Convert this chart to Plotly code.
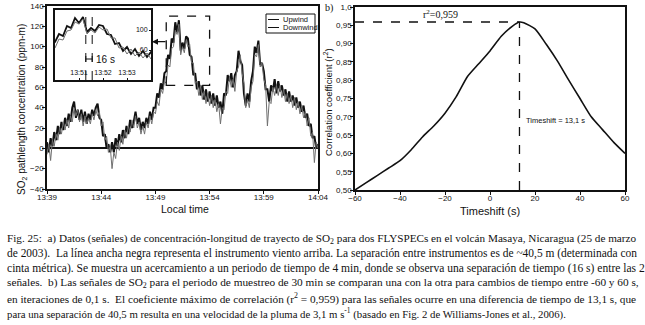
import plotly.graph_objects as go
import pandas as pd

W, H = 645, 325

def fx(p):
    return p / W

def fy(p):
    return 1 - p / H

# ---------------- data: panel a) (10 s samples from 13:39:00 to 14:04:00) ----------------
t_start = "2003-03-25 13:39:00"
upwind = [
    6, -4, 10, 2, 16, 8,          # 13:39
    22, 14, 26, 18, 30, 22,       # 13:40
    34, 26, 40, 46, 30, 38,       # 13:41
    28, 38, 26, 36, 24, 34,       # 13:42
    28, 38, 32, 40, 44, 30,       # 13:43
    28, 12, 14, 0, 4, -4,         # 13:44
    6, -4, 10, 2, 14, 6,          # 13:45
    18, 10, 22, 14, 28, 20,       # 13:46
    26, 36, 24, 30, 18, 26,       # 13:47
    20, 30, 24, 36, 28, 40,       # 13:48
    40, 54, 50, 64, 58, 74,       # 13:49
    76, 92, 88, 108, 104, 124,    # 13:50
    114, 126, 96, 104, 98, 110,   # 13:51
    108, 92, 90, 72, 74, 58,      # 13:52
    66, 52, 62, 48, 58, 46,       # 13:53
    56, 44, 54, 42, 52, 40,       # 13:54
    46, 34, 54, 52, 72, 66,       # 13:55
    74, 60, 72, 76, 96, 86,       # 13:56
    82, 54, 42, 54, 46, 66,       # 13:57
    76, 100, 94, 106, 82, 84,     # 13:58
    76, 58, 58, 46, 62, 56,       # 13:59
    68, 54, 66, 56, 62, 52,       # 14:00
    58, 46, 56, 46, 52, 42,       # 14:01
    50, 40, 46, 36, 42, 30,       # 14:02
    34, 22, 24, 10, 12, 0,        # 14:03
    4,                            # 14:04
]
downwind = [
    -6, 4, -12, 8, 2, 14,
    8, 20, 14, 26, 18, 28,
    20, 32, 26, 40, 32, 38,
    26, 34, 22, 32, 24, 30,
    24, 34, 28, 38, 32, 36,
    22, 26, 8, 12, -4, 2,
    -20, -4, -10, 6, -2, 12,
    4, 18, 10, 22, 16, 28,
    20, 32, 20, 26, 14, 22,
    14, 26, 20, 32, 24, 36,
    34, 46, 42, 58, 54, 66,
    64, 82, 80, 98, 100, 116,
    112, 122, 92, 100, 94, 106,
    100, 102, 84, 84, 64, 66,
    52, 62, 48, 56, 44, 54,
    42, 52, 40, 48, 36, 44,
    24, 40, 38, 56, 54, 70,
    60, 68, 56, 76, 80, 92,
    74, 64, 40, 48, 40, 60,
    66, 92, 90, 102, 80, 84,
    68, 62, 22, 46, 44, 60,
    52, 62, 52, 62, 50, 58,
    46, 54, 44, 52, 40, 50,
    38, 46, 34, 42, 30, 36,
    22, 30, 12, 16, -14, 6,
    0,
]
time_ticks = ["13:39", "13:44", "13:49", "13:54", "13:59", "14:04"]
inset_ticks = ["13:51", "13:52", "13:53"]
inset_window = ["13:50:00", "13:54:00"]
lag_marks = ["13:51:17", "13:51:33"]

# ---------------- data: panel b) ----------------
timeshift = [-60, -55, -50, -45, -40, -35, -30, -25, -20, -15, -10, -5, 0, 5, 10, 13.1,
             15, 20, 25, 30, 35, 40, 45, 50, 55, 60]
r2 = [0.500, 0.520, 0.540, 0.560, 0.580, 0.610, 0.645, 0.675, 0.710, 0.755, 0.810, 0.845,
      0.880, 0.920, 0.948, 0.959, 0.957, 0.940, 0.898, 0.852, 0.800, 0.750, 0.700, 0.665,
      0.630, 0.600]
r2_ticks = [0.50, 0.55, 0.60, 0.65, 0.70, 0.75, 0.80, 0.85, 0.90, 0.95, 1.00]
r2_labels = ["0,50", "0,55", "0,60", "0,65", "0,70", "0,75", "0,80", "0,85", "0,90", "0,95", "1,0"]
shift_ticks = [-60, -40, -20, 0, 20, 40, 60]
peak_shift, peak_r2 = 13.1, 0.959

caption = [
    "Fig. 25:  a) Datos (señales) de concentración-longitud de trayecto de SO<sub>2</sub> para dos FLYSPECs en el volcán Masaya, Nicaragua (25 de marzo",
    "de 2003).  La línea ancha negra representa el instrumento viento arriba. La separación entre instrumentos es de ~40,5 m (determinada con",
    "cinta métrica). Se muestra un acercamiento a un periodo de tiempo de 4 min, donde se observa una separación de tiempo (16 s) entre las 2",
    "señales.  b) Las señales de SO<sub>2</sub> para el periodo de muestreo de 30 min se comparan una con la otra para cambios de tiempo entre -60 y 60 s,",
    "en iteraciones de 0,1 s.  El coeficiente máximo de correlación (r<sup>2</sup> = 0,959) para las señales ocurre en una diferencia de tiempo de 13,1 s, que",
    "para una separación de 40,5 m resulta en una velocidad de la pluma de 3,1 m s<sup>-1</sup> (basado en Fig. 2 de Williams-Jones et al., 2006).",
]
caption_sizes = [11.2, 11.45, 11.55, 11.3, 11.25, 10.75]

day = "2003-03-25 "
times = pd.date_range(t_start, periods=len(upwind), freq="10s")

SANS = "Liberation Sans, Arial, sans-serif"
SERIF = "Liberation Serif, Times New Roman, serif"
INK = "#111111"

fig = go.Figure()
for xa, ya, wu in (("x", "y", 2.0), ("x3", "y3", 1.8)):
    fig.add_trace(go.Scatter(x=times, y=upwind, mode="lines", name="Upwind",
                             line=dict(color=INK, width=wu), xaxis=xa, yaxis=ya,
                             showlegend=False))
    fig.add_trace(go.Scatter(x=times, y=downwind, mode="lines", name="Downwind",
                             line=dict(color="#707070", width=1), xaxis=xa, yaxis=ya,
                             showlegend=False))
fig.add_trace(go.Scatter(x=timeshift, y=r2, mode="lines",
                         line=dict(color=INK, width=1.6, shape="spline", smoothing=0.6),
                         xaxis="x2", yaxis="y2", showlegend=False))

tick_font = dict(family=SANS, size=8, color=INK)
ax_common = dict(showline=True, linecolor=INK, linewidth=1.5, mirror=True,
                 ticks="outside", ticklen=3, tickwidth=1, tickcolor=INK,
                 showgrid=False, zeroline=False, tickfont=tick_font, automargin=False)

fig.update_layout(
    width=W, height=H, template="none",
    margin=dict(l=0, r=0, t=0, b=0),
    paper_bgcolor="white", plot_bgcolor="white",
    font=dict(family=SANS, color=INK),
    xaxis=dict(ax_common, domain=[fx(47), fx(318)], anchor="y", type="date",
               range=[day + "13:39:00", day + "14:04:00"],
               tickvals=[day + t for t in time_ticks], ticktext=time_ticks,
               ticklabelstandoff=-3),
    yaxis=dict(ax_common, domain=[fy(189), fy(6)], anchor="x", range=[-40, 140],
               tickvals=list(range(-40, 141, 20)), ticklabelstandoff=-3,
               zeroline=True, zerolinecolor=INK, zerolinewidth=1.5),
    xaxis2=dict(ax_common, domain=[fx(355), fx(625)], anchor="y2", range=[-60, 60],
                tickvals=shift_ticks, ticklabelstandoff=-3),
    yaxis2=dict(ax_common, domain=[fy(190), fy(7)], anchor="x2", range=[0.5, 1.0],
                tickvals=r2_ticks, ticktext=r2_labels, ticklabelstandoff=-3),
    xaxis3=dict(showline=True, linecolor=INK, linewidth=1.5, mirror=True,
                showgrid=False, zeroline=False, automargin=False,
                domain=[fx(55), fx(151)], anchor="y3", type="date",
                range=[day + inset_window[0], day + inset_window[1]],
                tickvals=[day + t for t in inset_ticks], ticktext=inset_ticks,
                ticks="inside", ticklen=2, tickcolor=INK,
                ticklabelposition="inside",
                tickfont=dict(family=SANS, size=7, color=INK)),
    yaxis3=dict(showline=True, linecolor=INK, linewidth=1.5, mirror=True,
                showgrid=False, zeroline=False, automargin=False,
                domain=[fy(80), fy(10)], anchor="x3", side="right", range=[0, 140],
                tickvals=[20, 60, 100], ticks="inside", ticklen=2, tickcolor=INK,
                ticklabelposition="inside",
                tickfont=dict(family=SANS, size=7, color=INK)),
)

dash = dict(color=INK, width=1.3, dash="dash")
shapes = [
    # zoom window in panel a)
    dict(type="rect", xref="x", yref="y", x0=day + inset_window[0], x1=day + inset_window[1],
         y0=62, y1=130, line=dash),
    # lag markers in the inset
    dict(type="line", xref="x3", yref="y3 domain", x0=day + lag_marks[0], x1=day + lag_marks[0],
         y0=0, y1=1, line=dict(color=INK, width=1, dash="dash")),
    dict(type="line", xref="x3", yref="y3 domain", x0=day + lag_marks[1], x1=day + lag_marks[1],
         y0=0, y1=1, line=dict(color=INK, width=1, dash="dash")),
    dict(type="line", xref="x3", yref="y3", x0=day + lag_marks[0], x1=day + lag_marks[1],
         y0=42, y1=42, line=dict(color=INK, width=1)),
    dict(type="line", xref="x3", yref="y3", x0=day + lag_marks[0], x1=day + lag_marks[0],
         y0=36, y1=48, line=dict(color=INK, width=1)),
    dict(type="line", xref="x3", yref="y3", x0=day + lag_marks[1], x1=day + lag_marks[1],
         y0=36, y1=48, line=dict(color=INK, width=1)),
    # peak markers in panel b)
    dict(type="line", xref="x2", yref="y2", x0=-60, x1=peak_shift, y0=peak_r2, y1=peak_r2, line=dash),
    dict(type="line", xref="x2", yref="y2", x0=peak_shift, x1=peak_shift, y0=0.5, y1=peak_r2, line=dash),
    # legend box (panel a)
    dict(type="rect", xref="paper", yref="paper", x0=fx(266), x1=fx(315), y0=fy(33), y1=fy(14),
         line=dict(color=INK, width=1), fillcolor="white"),
    dict(type="line", xref="paper", yref="paper", x0=fx(268), x1=fx(279), y0=fy(19.5), y1=fy(19.5),
         line=dict(color=INK, width=1)),
    dict(type="line", xref="paper", yref="paper", x0=fx(268), x1=fx(279), y0=fy(27.5), y1=fy(27.5),
         line=dict(color=INK, width=1)),
]

C = dict(xanchor="center", yanchor="middle", showarrow=False)
ann = [
    # axis titles
    dict(C, text="SO<sub>2</sub> pathlength concentration (ppm-m)", xref="paper", yref="paper",
         x=fx(22), y=fy(110), textangle=-90, font=dict(size=10)),
    dict(C, text="Local time", xref="paper", yref="paper", x=fx(185), y=fy(209),
         font=dict(size=10.5)),
    dict(C, text="Correlation coefficient (r<sup>2</sup>)", xref="paper", yref="paper",
         x=fx(328), y=fy(102), textangle=-90, font=dict(size=9.5)),
    dict(C, text="Timeshift (s)", xref="paper", yref="paper", x=fx(490), y=fy(211),
         font=dict(size=11)),
    # panel a) marks
    dict(text="16 s", xref="x3", yref="y3", x=day + "13:51:38", y=42, xanchor="left",
         yanchor="middle", showarrow=False, font=dict(size=10)),
    dict(text="", xref="paper", yref="paper", x=fx(152), y=fy(41.7), ax=15, ay=0,
         axref="pixel", ayref="pixel", showarrow=True, arrowhead=2, arrowsize=1,
         arrowwidth=1.2, arrowcolor=INK),
    dict(text="Upwind", xref="paper", yref="paper", x=fx(280.5), y=fy(19.5), xanchor="left",
         yanchor="middle", showarrow=False, font=dict(size=7.5)),
    dict(text="Downwind", xref="paper", yref="paper", x=fx(280.5), y=fy(27.5), xanchor="left",
         yanchor="middle", showarrow=False, font=dict(size=7.5)),
    # panel b) marks
    dict(C, text="r<sup>2</sup>=0,959", xref="x2", yref="y2", x=-22, y=0.982,
         font=dict(family=SERIF, size=10)),
    dict(text="Timeshift = 13,1 s", xref="x2", yref="y2", x=15, y=0.691, xanchor="left",
         yanchor="middle", showarrow=False, font=dict(size=7.5)),
    dict(text="b)", xref="paper", yref="paper", x=fx(323), y=1, xanchor="left",
         yanchor="top", showarrow=False, font=dict(family=SERIF, size=10)),
]
for i, line in enumerate(caption):
    ann.append(dict(text=line, xref="paper", yref="paper", x=fx(5), y=fy(239 + 14.8 * i),
                    xanchor="left", yanchor="middle", showarrow=False,
                    font=dict(family=SERIF, size=caption_sizes[i], color=INK)))

fig.update_layout(shapes=shapes, annotations=ann)
fig.write_html("out.html", config={"displayModeBar": False},
               post_script="document.body.style.margin='0px';")
